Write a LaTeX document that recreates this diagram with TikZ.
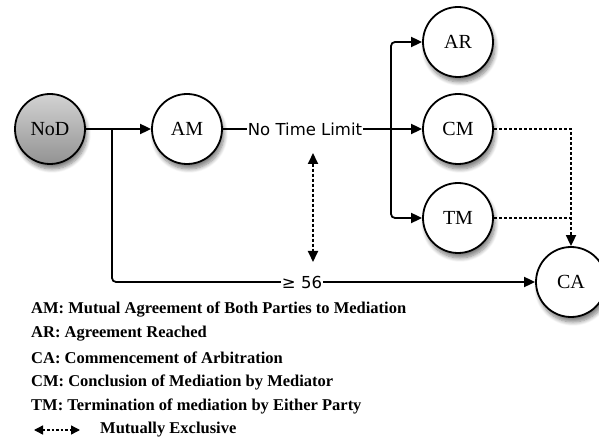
\documentclass[tikz,border=0pt]{standalone}
\usepackage{fontspec}
\setmainfont{Liberation Serif}
\newfontfamily\labelsans{DejaVu Sans}
\usetikzlibrary{arrows.meta,shadows.blur}

\begin{document}
\begin{tikzpicture}[x=1pt,y=-1pt,
  state/.style={circle, draw=black, line width=1.8pt, minimum size=70pt, inner sep=0pt,
    fill=white, font=\fontsize{20}{22}\selectfont,
    blur shadow={shadow xshift=2pt, shadow yshift=-5pt, shadow blur radius=4pt, shadow blur steps=8, shadow opacity=50}},
  startstate/.style={state, top color=gray!35, bottom color=gray!85},
  flow/.style={line width=1.8pt, -{Triangle[length=11pt,width=10pt]}},
  plain/.style={line width=1.8pt},
  dashflow/.style={line width=1.8pt, dash pattern=on 3pt off 2pt, -{Triangle[length=11pt,width=10pt]}},
  excl/.style={line width=1.8pt, dash pattern=on 3pt off 2pt, {Triangle[length=11pt,width=10pt]}-{Triangle[length=11pt,width=10pt]}},
  edgelabel/.style={fill=white, inner sep=1pt, font=\labelsans\fontsize{16.5}{18}\selectfont},
  legend/.style={anchor=west, inner sep=0pt, font=\bfseries\fontsize{16.5}{19}\selectfont}
]
\useasboundingbox (0,0) rectangle (599,443);

% states
\node[startstate] (NoD) at (50,129) {NoD};
\node[state] (AM) at (187,129) {AM};
\node[state] (AR) at (458,42) {AR};
\node[state] (CM) at (458,129) {CM};
\node[state] (TM) at (458,218) {TM};
\node[state] (CA) at (571,282) {CA};

% branch points
\coordinate (j1) at (112,129);
\coordinate (j2) at (391,129);

% NoD -> AM
\draw[flow] (NoD.east) -- (AM.west);

% AM -> fan-out with no time limit
\node[edgelabel] (ntl) at (305,129) {No Time Limit};
\draw[plain] (AM.east) -- (ntl.west);
\draw[plain] (ntl.east) -- (j2);
\draw[flow] (j2) -- (CM.west);
\draw[flow, rounded corners=4pt] (j2) |- (AR.west);
\draw[flow, rounded corners=4pt] (j2) |- (TM.west);

% NoD -> CA after at least 56 days
\node[edgelabel] (ge) at (302,282) {≥ 56};
\draw[plain, rounded corners=4pt] (j1) |- (ge.west);
\draw[flow] (ge.east) -- (CA.west);

% CM / TM -> CA
\draw[dashflow] (CM.east) -| (CA.north);
\draw[line width=1.8pt, dash pattern=on 3pt off 2pt] (TM.east) -- (TM.east -| CA.north);

% mutual exclusion marker
\coordinate (mxtop) at (313,153);
\coordinate (mxbot) at (313,262);
\draw[excl] (mxtop) -- (mxbot);

% legend
\node[legend] (l1) at (31,310) {AM: Mutual Agreement of Both Parties to Mediation};
\node[legend] (l2) at (31,334) {AR: Agreement Reached};
\node[legend] (l3) at (31,358) {CA: Commencement of Arbitration};
\node[legend] (l4) at (31,382) {CM: Conclusion of Mediation by Mediator};
\node[legend] (l5) at (31,406) {TM: Termination of mediation by Either Party};
\coordinate (k1) at (34,430);
\coordinate (k2) at (80,430);
\draw[line width=1.4pt, dash pattern=on 2.5pt off 2pt, {Triangle[length=9pt,width=9pt]}-{Triangle[length=9pt,width=9pt]}] (k1) -- (k2);
\node[legend] (l6) at (100,430) {Mutually Exclusive};
\end{tikzpicture}
\end{document}
